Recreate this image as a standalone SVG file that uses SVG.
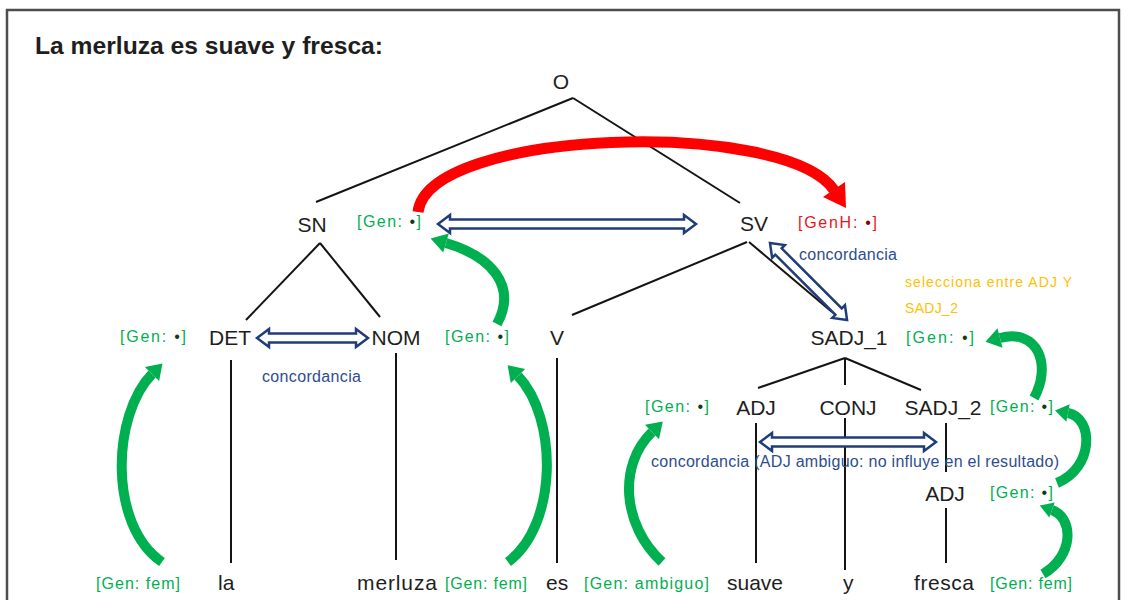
<svg xmlns="http://www.w3.org/2000/svg" width="1129" height="600" viewBox="0 0 1129 600">
<style>
.lbl{font-family:"Liberation Sans",Arial,sans-serif;font-size:21px;fill:#1e1e1e;text-anchor:middle}
.word{font-family:"Liberation Sans",Arial,sans-serif;font-size:21px;fill:#1e1e1e}
.gen{font-family:"Liberation Sans",Arial,sans-serif;font-size:16px;fill:#00b050}
.dot{fill:#0d3d14}
.red{font-family:"Liberation Sans",Arial,sans-serif;font-size:16px;fill:#e8141b}
.blue{font-family:"Liberation Sans",Arial,sans-serif;font-size:16px;fill:#2e4d8f}
.orange{font-family:"Liberation Sans",Arial,sans-serif;font-size:14px;fill:#ffc000}
.tree{stroke:#141414;stroke-width:2;fill:none}
.barrow{fill:#ffffff;stroke:#1f3d7a;stroke-width:2.5;stroke-linejoin:miter}
.garc{fill:none;stroke:#00b050;stroke-width:10}
.ghead{fill:#00b050}
</style>
<rect x="0" y="0" width="1129" height="600" fill="#ffffff"/>
<rect x="7" y="10" width="1112" height="620" fill="none" stroke="#4d4d4d" stroke-width="2.5"/>
<text x="35" y="54" font-family="'Liberation Sans',Arial,sans-serif" font-size="24" font-weight="bold" fill="#1e1e1e" textLength="348" lengthAdjust="spacingAndGlyphs">La merluza es suave y fresca:</text>

<g id="connectors">
  <!-- tree lines -->
  <line class="tree" x1="573" y1="98" x2="316" y2="202"/>
  <line class="tree" x1="573" y1="98" x2="740" y2="203"/>
  <line class="tree" x1="320" y1="243" x2="246" y2="320"/>
  <line class="tree" x1="320" y1="243" x2="380" y2="317"/>
  <line class="tree" x1="747" y1="242" x2="572" y2="315"/>
  <line class="tree" x1="749" y1="242" x2="832" y2="312"/>
  <line class="tree" x1="845" y1="358" x2="758" y2="388"/>
  <line class="tree" x1="845" y1="358" x2="845" y2="385"/>
  <line class="tree" x1="845" y1="358" x2="921" y2="390"/>
  <line class="tree" x1="231" y1="360" x2="231" y2="563"/>
  <line class="tree" x1="396" y1="353" x2="396" y2="560"/>
  <line class="tree" x1="557" y1="358" x2="557" y2="563" stroke-width="2.5"/>
  <line class="tree" x1="756" y1="423" x2="756" y2="563"/>
  <line class="tree" x1="845" y1="418" x2="845" y2="570"/>
  <line class="tree" x1="946" y1="423" x2="946" y2="472"/>
  <line class="tree" x1="946" y1="508" x2="946" y2="563"/>

  <!-- blue hollow agreement arrows -->
  <polygon class="barrow" points="438,224 450,215 450,219.5 684,219.5 684,215 696,224 684,233 684,228.5 450,228.5 450,233"/>
  <polygon class="barrow" points="257,338 269,329 269,333.5 356,333.5 356,329 368,338 356,347 356,342.5 269,342.5 269,347"/>
  <polygon class="barrow" points="760,442 772,433 772,437.5 924,437.5 924,433 936,442 924,451 924,446.5 772,446.5 772,451"/>
  <polygon class="barrow" transform="translate(770,243) rotate(45)" points="0,0 12,-9 12,-4.5 97,-4.5 97,-9 109,0 97,9 97,4.5 12,4.5 12,9"/>

  <!-- red arc -->
  <path d="M418 212 C428 128, 785 118, 834 190" fill="none" stroke="#ff0000" stroke-width="11"/>
  <polygon points="846,208 845,182 823,197" fill="#ff0000"/>

  <!-- green arcs -->
  <path class="garc" d="M162 562 C108 525, 112 415, 152 374"/>
  <polygon class="ghead" points="162.5,363.4 159.1,381 144.9,367"/>
  <path class="garc" d="M508 562 C558 525, 558 418, 518 376"/>
  <polygon class="ghead" points="507.6,365.2 525.2,369.1 510.8,382.9"/>
  <path class="garc" d="M497 324 C518 285, 490 256, 446 243"/>
  <polygon class="ghead" points="430.6,238.5 448.8,233.4 443.2,252.6"/>
  <path class="garc" d="M662 562 C622 525, 618 465, 652 432"/>
  <polygon class="ghead" points="662.8,421.5 659,439.2 645,424.8"/>
  <path class="garc" d="M1034 398 C1052 365, 1038 328, 1000 338" stroke="#4ea52e"/>
  <polygon class="ghead" points="985.5,341.8 1002.5,347.7 997.5,328.3" fill="#4ea52e"/>
  <path class="garc" d="M1057 483 C1094 468, 1094 418, 1068 413"/>
  <polygon class="ghead" points="1055,410.5 1069.7,404.2 1066.3,421.8"/>
  <path class="garc" d="M1043 574 C1074 556, 1074 518, 1052 510"/>
  <polygon class="ghead" points="1039.8,505.6 1054.7,502.5 1049.3,517.5"/>
</g>

<g id="node-O"><text class="lbl" x="561" y="89">O</text></g>
<g id="node-SN">
  <text class="lbl" x="312" y="232">SN</text>
  <text class="gen" x="357" y="227" textLength="64">[Gen: <tspan class="dot">•</tspan>]</text>
</g>
<g id="node-SV">
  <text class="lbl" x="754" y="231">SV</text>
  <text class="red" x="798" y="228" textLength="79">[GenH: <tspan fill="#8a0000">•</tspan>]</text>
  <text class="blue" x="799" y="260" textLength="98">concordancia</text>
</g>
<g id="note-selecciona">
  <text class="orange" x="905" y="287" textLength="167">selecciona entre ADJ Y</text>
  <text class="orange" x="905" y="313" textLength="53">SADJ_2</text>
</g>
<g id="node-DET">
  <text class="gen" x="120" y="342" textLength="66">[Gen: <tspan class="dot">•</tspan>]</text>
  <text class="lbl" x="230" y="345">DET</text>
  <text class="blue" x="262" y="382" textLength="99">concordancia</text>
</g>
<g id="node-NOM">
  <text class="lbl" x="396" y="345">NOM</text>
  <text class="gen" x="445" y="342" textLength="64">[Gen: <tspan class="dot">•</tspan>]</text>
</g>
<g id="node-V"><text class="lbl" x="557" y="345">V</text></g>
<g id="node-SADJ_1">
  <text class="lbl" x="849" y="345">SADJ_1</text>
  <text class="gen" x="906" y="343" textLength="68">[Gen: <tspan class="dot">•</tspan>]</text>
</g>
<g id="node-ADJ">
  <text class="gen" x="645" y="412" textLength="64">[Gen: <tspan class="dot">•</tspan>]</text>
  <text class="lbl" x="756" y="415">ADJ</text>
</g>
<g id="node-CONJ"><text class="lbl" x="848" y="415">CONJ</text></g>
<g id="node-SADJ_2">
  <text class="lbl" x="943" y="415">SADJ_2</text>
  <text class="gen" x="990" y="412" textLength="63">[Gen: <tspan class="dot">•</tspan>]</text>
</g>
<g id="label-concordancia-adj">
  <text class="blue" x="651" y="467" textLength="408">concordancia (ADJ ambiguo: no influye en el resultado)</text>
</g>
<g id="node-ADJ2">
  <text class="lbl" x="945" y="501">ADJ</text>
  <text class="gen" x="990" y="498" textLength="63">[Gen: <tspan class="dot">•</tspan>]</text>
</g>
<g id="words">
  <text class="gen" x="96" y="589" textLength="84">[Gen: fem]</text>
  <text class="word" x="218" y="590">la</text>
  <text class="word" x="357" y="590" textLength="80">merluza</text>
  <text class="gen" x="445" y="589" textLength="82">[Gen: fem]</text>
  <text class="word" x="546" y="590">es</text>
  <text class="gen" x="584" y="589" textLength="125">[Gen: ambiguo]</text>
  <text class="word" x="727" y="590" textLength="56">suave</text>
  <text class="word" x="843" y="590">y</text>
  <text class="word" x="914" y="590" textLength="60">fresca</text>
  <text class="gen" x="990" y="589" textLength="82">[Gen: fem]</text>
</g>
</svg>
